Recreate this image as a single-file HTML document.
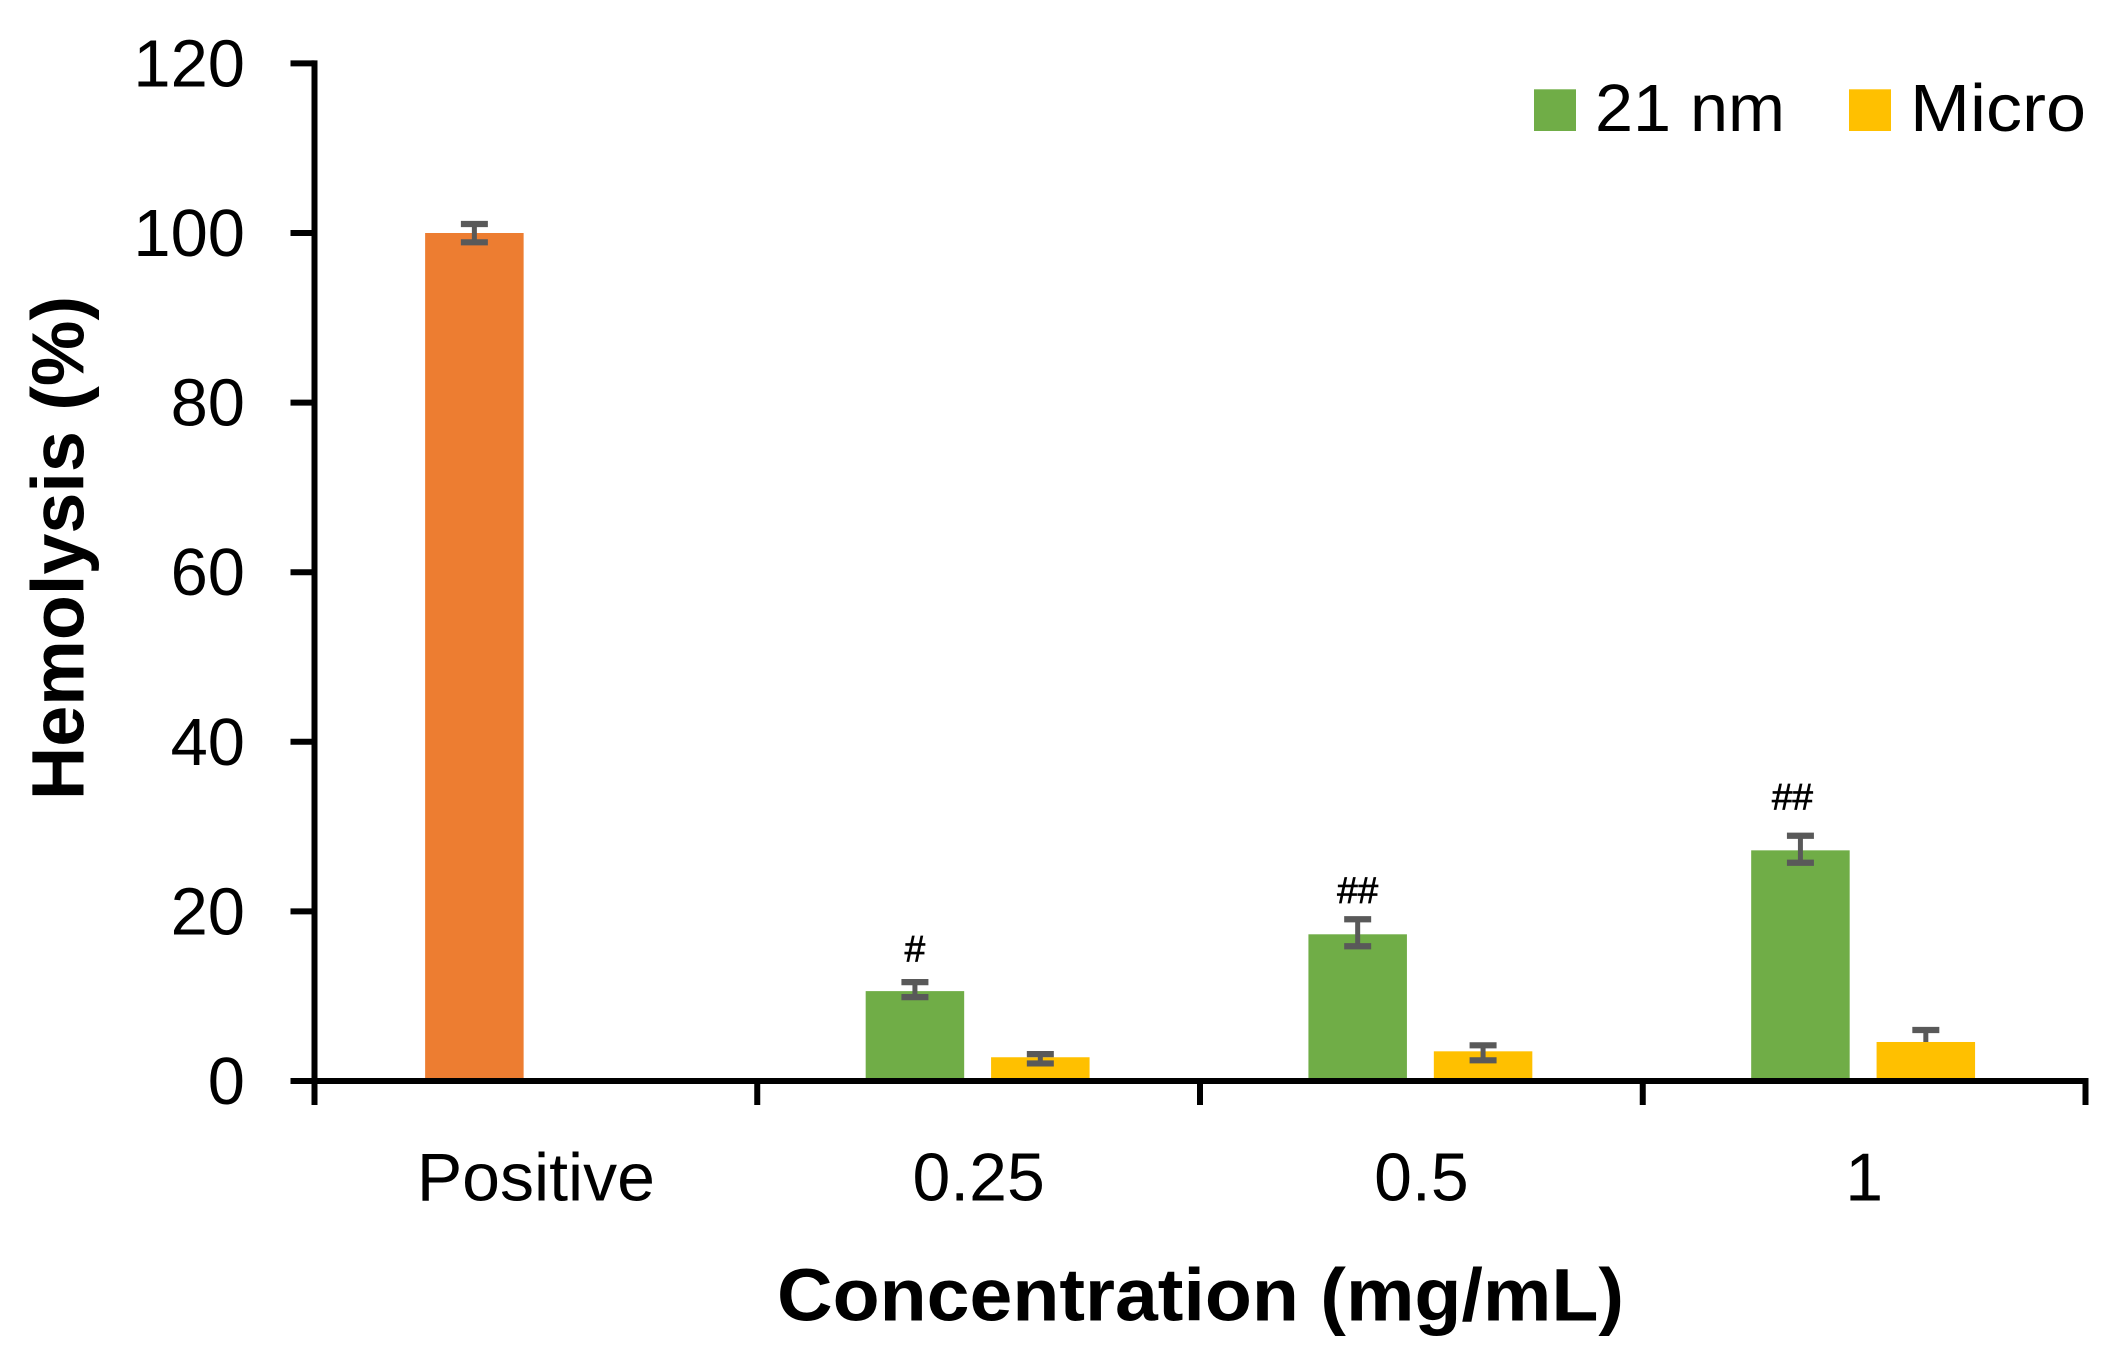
<!DOCTYPE html>
<html lang="en">
<head>
<meta charset="utf-8">
<title>Hemolysis vs concentration</title>
<style>
html,body{margin:0;padding:0;background:#fff;width:2106px;height:1364px;overflow:hidden}
svg{display:block}
text{font-family:"Liberation Sans",sans-serif;fill:#000}
</style>
</head>
<body>
<svg id="chart" xmlns="http://www.w3.org/2000/svg" width="2106" height="1364" viewBox="0 0 2106 1364">
  <rect x="0" y="0" width="2106" height="1364" fill="#ffffff"/>
  <g id="bars"></g>
  <g id="errors"></g>
  <g id="annotations"></g>
  <g id="axes"></g>
  <g id="labels"></g>
  <text transform="translate(83.5 800) rotate(-90)" font-size="74" font-weight="700" textLength="504" lengthAdjust="spacingAndGlyphs">Hemolysis (%)</text>
  <text x="777" y="1320.7" font-size="74" font-weight="700" textLength="847" lengthAdjust="spacingAndGlyphs">Concentration (mg/mL)</text>
  <g>
    <g>
      <rect x="1534" y="89.3" width="42" height="41.7" fill="#70AD47"/>
      <text x="1595" y="131" font-size="67" textLength="190" lengthAdjust="spacingAndGlyphs">21 nm</text>
    </g>
    <g>
      <rect x="1849" y="89.3" width="42" height="41.7" fill="#FFC000"/>
      <text x="1910" y="131" font-size="67" textLength="176" lengthAdjust="spacingAndGlyphs">Micro</text>
    </g>
  </g>
</svg>
<script>
const categories = ["Positive", "0.25", "0.5", "1"];
const yTickValues = [0, 20, 40, 60, 80, 100, 120];

const positiveValues = [100, null, null, null];
const positivePlus = [1.06, null, null, null];
const positiveMinus = [1.1, null, null, null];

const nm21Values = [null, 10.6, 17.3, 27.2];
const nm21Plus = [null, 1.06, 1.77, 1.72];
const nm21Minus = [null, 0.71, 1.41, 1.46];

const microValues = [null, 2.8, 3.5, 4.6];
const microPlus = [null, 0.37, 0.71, 1.41];
const microMinus = [null, 0.73, 1.06, 0];

const annotationLabels = [null, "#", "##", "##"];
const annotationLevels = [null, 14.07, 21.0, 32.0];

const NS = "http://www.w3.org/2000/svg";
const PLOT_LEFT = 314.5, PLOT_RIGHT = 2085.5, Y_ZERO = 1081, PX_PER_UNIT = 8.48;
const BAND = (PLOT_RIGHT - PLOT_LEFT) / categories.length;
const BAR_W = 98.5, BAR_OFFSET = 62.7, BAR_SHIFT = -1, CAP_W = 27, CAP_H = 6.2, ERR_W = 5, AXIS_W = 6;

function yScale(v) { return Y_ZERO - v * PX_PER_UNIT; }
function bandCenter(i) { return PLOT_LEFT + BAND * (i + 0.5); }
function bandEdge(i) { return PLOT_LEFT + BAND * i; }

function make(tag, parent, attrs) {
  const el = document.createElementNS(NS, tag);
  for (const k in attrs) el.setAttribute(k, attrs[k]);
  parent.appendChild(el);
  return el;
}

const barsG = document.getElementById("bars");
const errorsG = document.getElementById("errors");
const annG = document.getElementById("annotations");
const axesG = document.getElementById("axes");
const labelsG = document.getElementById("labels");

function drawSeries(seriesKey, values, plus, minus, color, offset) {
  values.forEach(function (v, i) {
    if (v === null) return;
    const cx = bandCenter(i) + offset + BAR_SHIFT;
    const top = yScale(v);
    const bar = make("rect", barsG, { x: cx - BAR_W / 2, y: top, width: BAR_W, height: Y_ZERO - top, fill: color });
    
    

    const upper = yScale(v + plus[i]);
    const lower = yScale(v - minus[i]);
    const stem = make("line", errorsG, { x1: cx, x2: cx, y1: upper, y2: lower, stroke: "#595959", "stroke-width": ERR_W });
    
    
    const capTop = make("line", errorsG, { x1: cx - CAP_W / 2, x2: cx + CAP_W / 2, y1: upper, y2: upper, stroke: "#595959", "stroke-width": CAP_H });
    
    
    if (minus[i] > 0) {
      const capBottom = make("line", errorsG, { x1: cx - CAP_W / 2, x2: cx + CAP_W / 2, y1: lower, y2: lower, stroke: "#595959", "stroke-width": CAP_H });
      
      
    }
  });
}

drawSeries("positive", positiveValues, positivePlus, positiveMinus, "#ED7D31", -60.5);
drawSeries("21nm", nm21Values, nm21Plus, nm21Minus, "#70AD47", -BAR_OFFSET);
drawSeries("micro", microValues, microPlus, microMinus, "#FFC000", BAR_OFFSET);

annotationLabels.forEach(function (label, i) {
  if (label === null) return;
  const lastGroupNudge = i === categories.length - 1 ? -8 : 0;
  const t = make("text", annG, { x: bandCenter(i) - BAR_OFFSET - 1 + lastGroupNudge, y: yScale(annotationLevels[i]), "font-size": 37, "text-anchor": "middle", stroke: "#000", "stroke-width": 0.7 });
  t.textContent = label;
  
  
});

const yAxis = make("line", axesG, { x1: PLOT_LEFT, x2: PLOT_LEFT, y1: yScale(120) - AXIS_W / 2, y2: 1105, stroke: "#000", "stroke-width": AXIS_W });


const xAxis = make("line", axesG, { x1: 290.5, x2: PLOT_RIGHT + AXIS_W / 2, y1: Y_ZERO, y2: Y_ZERO, stroke: "#000", "stroke-width": AXIS_W });



yTickValues.forEach(function (v) {
  const y = yScale(v);
  const tick = make("line", axesG, { x1: 290.5, x2: PLOT_LEFT, y1: y, y2: y, stroke: "#000", "stroke-width": AXIS_W });
  
  
  const s = String(v);
  const t = make("text", labelsG, { x: 245, y: y + 23, "font-size": 67, "text-anchor": "end", textLength: s.length * 37.2, lengthAdjust: "spacingAndGlyphs" });
  t.textContent = s;
  
  
});

for (let i = 0; i <= categories.length; i++) {
  const x = bandEdge(i);
  const tick = make("line", axesG, { x1: x, x2: x, y1: Y_ZERO, y2: 1105, stroke: "#000", "stroke-width": AXIS_W });
  
  
}

categories.forEach(function (c, i) {
  const t = make("text", labelsG, { x: bandCenter(i), y: 1200.7, "font-size": 68, "text-anchor": "middle" });
  t.textContent = c;
  
  
});
</script>
</body>
</html>
